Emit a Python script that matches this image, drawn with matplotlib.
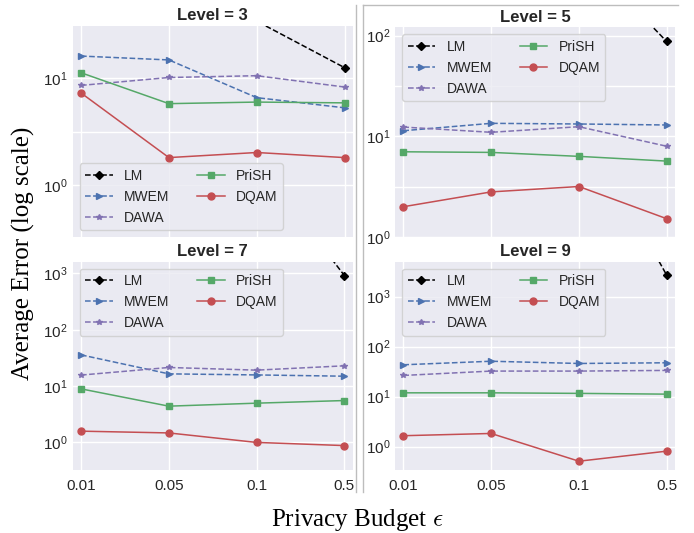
import matplotlib
matplotlib.use("Agg")
import matplotlib.pyplot as plt
from matplotlib.ticker import FixedLocator, NullFormatter, LogLocator, LogFormatterSciNotation
from matplotlib.lines import Line2D
import numpy as np

# ---------------- data ----------------
eps_labels = ["0.01", "0.05", "0.1", "0.5"]
methods = ["LM", "MWEM", "DAWA", "PriSH", "DQAM"]
levels = [3, 5, 7, 9]

lm_l3 = [300, 80, 34.4, 12.6]
mwem_l3 = [16.2, 14.9, 6.6, 5.3]
dawa_l3 = [8.6, 10.2, 10.6, 8.3]
prish_l3 = [11.3, 5.8, 6.0, 5.9]
dqam_l3 = [7.3, 1.81, 2.02, 1.81]

lm_l5 = [5000, 1500, 700, 87.5]
mwem_l5 = [11.4, 13.5, 13.3, 13.0]
dawa_l5 = [12.4, 11.0, 12.5, 8.0]
prish_l5 = [7.05, 6.95, 6.35, 5.7]
dqam_l5 = [2.01, 2.82, 3.19, 1.53]

lm_l7 = [1e6, 3e5, 1e5, 920]
mwem_l7 = [35.7, 16.4, 15.7, 14.9]
dawa_l7 = [15.6, 21.3, 19.1, 22.8]
prish_l7 = [8.87, 4.37, 4.94, 5.5]
dqam_l7 = [1.57, 1.46, 0.99, 0.87]

lm_l9 = [4e7, 1e7, 4e6, 2690]
mwem_l9 = [43.3, 51.0, 46.0, 47.5]
dawa_l9 = [26.5, 32.4, 32.4, 33.4]
prish_l9 = [11.9, 11.9, 11.6, 11.2]
dqam_l9 = [1.65, 1.83, 0.51, 0.81]

panel_data = {
    3: [lm_l3, mwem_l3, dawa_l3, prish_l3, dqam_l3],
    5: [lm_l5, mwem_l5, dawa_l5, prish_l5, dqam_l5],
    7: [lm_l7, mwem_l7, dawa_l7, prish_l7, dqam_l7],
    9: [lm_l9, mwem_l9, dawa_l9, prish_l9, dqam_l9],
}
ylims = {3: (0.326, 31.0), 5: (1.0, 121.0), 7: (0.32, 1620.0), 9: (0.34, 5000.0)}

# ---------------- style ----------------
plt.rcParams.update({
    "font.family": ["Liberation Sans", "DejaVu Sans"],
    "axes.facecolor": "#EAEAF2",
    "axes.edgecolor": "white",
    "grid.color": "white",
    "grid.linewidth": 1.0,
    "text.color": ".15",
    "xtick.color": ".15",
    "ytick.color": ".15",
    "xtick.labelsize": 11,
    "ytick.labelsize": 11,
})

styles = {
    "LM": dict(color="black", ls="--", marker="D", ms=4.5),
    "MWEM": dict(color="#4C72B0", ls="--", marker=">", ms=4.5),
    "DAWA": dict(color="#8172B2", ls="--", marker="*", ms=4),
    "PriSH": dict(color="#55A868", ls="-", marker="s", ms=4.5),
    "DQAM": dict(color="#C44E52", ls="-", marker="o", ms=5),
}

W, H = 694, 533
fig = plt.figure(figsize=(W / 100, H / 100), dpi=100)

# axes boxes in pixels: (left, top, right, bottom)
boxes = {
    3: (72.7, 26.0, 353.0, 237.0),
    5: (395.0, 27.3, 675.0, 237.3),
    7: (72.7, 261.7, 352.7, 470.0),
    9: (395.0, 261.7, 675.0, 470.0),
}
legend_loc = {3: "lower left", 5: "upper left", 7: "upper left", 9: "upper left"}

x = np.arange(len(eps_labels))
for lev in levels:
    l, t, r, b = boxes[lev]
    ax = fig.add_axes([l / W, 1 - b / H, (r - l) / W, (b - t) / H])
    for name, vals in zip(methods, panel_data[lev]):
        st = styles[name]
        ax.plot(x, vals, color=st["color"], linestyle=st["ls"], marker=st["marker"],
                markersize=st["ms"], linewidth=1.1, label=name)
    ax.set_yscale("log")
    ax.set_ylim(*ylims[lev])
    ax.set_xlim(-0.095, 3.095)
    ax.set_xticks(x)
    if lev in (7, 9):
        ax.set_xticklabels(eps_labels)
    else:
        ax.set_xticklabels([])
    ax.yaxis.set_major_locator(LogLocator(base=10, numticks=10))
    ax.yaxis.set_major_formatter(LogFormatterSciNotation())
    if lev in (3, 5):
        ax.yaxis.set_minor_locator(FixedLocator([10 ** (k + 0.5) for k in range(-2, 5)]))
        ax.grid(True, which="minor", axis="y", color="white", linewidth=1.0)
    else:
        ax.yaxis.set_minor_locator(FixedLocator([]))
    ax.yaxis.set_minor_formatter(NullFormatter())
    ax.grid(True, which="major", color="white", linewidth=1.0)
    ax.set_axisbelow(True)
    ax.tick_params(which="both", length=0)
    ax.tick_params(axis="x", pad=6.5)
    ax.tick_params(axis="y", pad=3.5)
    for sp in ax.spines.values():
        sp.set_visible(False)
    ax.set_title(f"Level = {lev}", fontsize=12, fontweight="bold", pad=4)
    leg = ax.legend(loc=legend_loc[lev], ncol=2, fontsize=10, frameon=True,
                    fancybox=True, framealpha=0.8, edgecolor="0.8",
                    facecolor="#EAEAF2", columnspacing=2.0)

# separator frame lines (from composed sub-images)
sep_color = "#BDBDBD"
fig.add_artist(Line2D([355.6 / W, 355.6 / W], [1 - 5 / H, 1 - 492 / H], color=sep_color, lw=1.0))
fig.add_artist(Line2D([363.0 / W, 363.0 / W], [1 - 5 / H, 1 - 492 / H], color=sep_color, lw=1.0))
fig.add_artist(Line2D([363.0 / W, 678.0 / W], [1 - 5 / H, 1 - 5 / H], color=sep_color, lw=1.0))

# shared axis labels
fig.text(23 / W, 1 - 253 / H, "Average Error (log scale)", rotation=90, ha="center", va="center",
         fontsize=18, family="Liberation Serif", color="black")
fig.text(357 / W, 1 - 520 / H, r"Privacy Budget $\epsilon$", ha="center", va="center",
         fontsize=18, family="Liberation Serif", color="black", math_fontfamily="cm")

fig.savefig("out.png", dpi=100)
